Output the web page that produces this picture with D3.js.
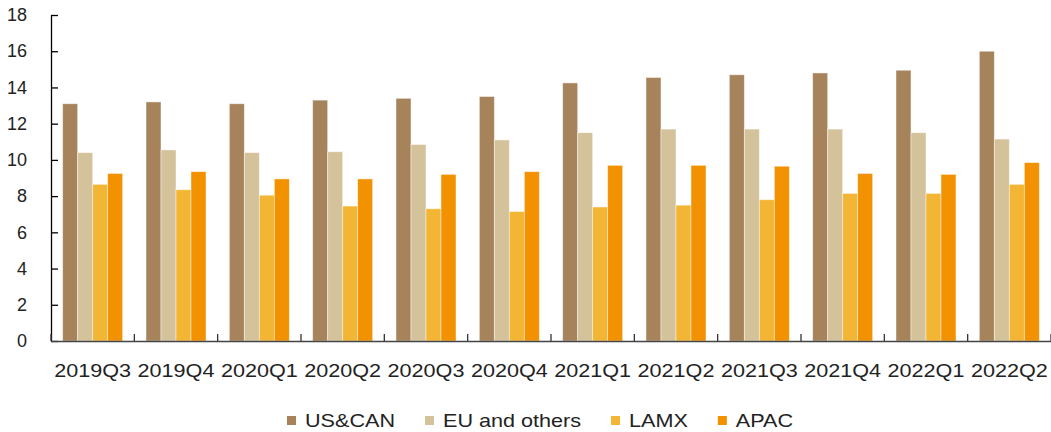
<!DOCTYPE html>
<html>
<head>
<meta charset="utf-8">
<script src="https://cdn.jsdelivr.net/npm/d3@7"></script>
<style>
  html, body { margin: 0; padding: 0; background: #fff; }
  svg { display: block; font-family: "Liberation Sans", Arial, sans-serif; }
</style>
</head>
<body>
<svg id="chart" width="1051" height="432"></svg>
<script>
const categories = ["2019Q3","2019Q4","2020Q1","2020Q2","2020Q3","2020Q4","2021Q1","2021Q2","2021Q3","2021Q4","2022Q1","2022Q2"];
const seriesNames = ["US&CAN","EU and others","LAMX","APAC"];
const usCan  = [13.1, 13.2, 13.1, 13.3, 13.4, 13.5, 14.25, 14.55, 14.7, 14.8, 14.95, 16.0];
const euOthers = [10.4, 10.55, 10.4, 10.45, 10.85, 11.1, 11.5, 11.7, 11.7, 11.7, 11.5, 11.15];
const lamx   = [8.65, 8.35, 8.05, 7.45, 7.3, 7.15, 7.4, 7.5, 7.8, 8.15, 8.15, 8.65];
const apac   = [9.25, 9.35, 8.95, 8.95, 9.2, 9.35, 9.7, 9.7, 9.65, 9.25, 9.2, 9.85];
const colors = ["#A6835B", "#D4C29A", "#F2B634", "#F39200"];
const yTicks = [0, 2, 4, 6, 8, 10, 12, 14, 16, 18];

const seriesValues = [usCan, euOthers, lamx, apac];
const svg = d3.select("#chart");
const mLeft = 51, mRight = 1051, mTop = 15, mBottom = 341;
const sx = 1.2;

const x0 = d3.scaleBand().domain(categories).range([mLeft, mRight]).paddingInner(0.28).paddingOuter(0.14);
const x1 = d3.scaleBand().domain(seriesNames).range([0, x0.bandwidth()]);
const y = d3.scaleLinear().domain([0, 18]).range([mBottom, mTop]);

// bars
const groups = svg.append("g").selectAll("g").data(categories).join("g")
  .attr("transform", d => `translate(${x0(d)},0)`);
groups.selectAll("rect")
  .data((c, i) => seriesNames.map((s, k) => ({s, k, v: seriesValues[k][i]})))
  .join("rect")
  .attr("x", d => x1(d.s))
  .attr("width", x1.bandwidth())
  .attr("y", d => y(d.v))
  .attr("height", d => y(0) - y(d.v))
  .attr("fill", d => colors[d.k])
  .attr("stroke", "rgba(255,255,255,0.55)")
  .attr("stroke-width", 0.8);

// y axis
const yAxis = svg.append("g").attr("transform", `translate(${mLeft},0)`)
  .call(d3.axisLeft(y).tickValues(yTicks).tickSizeInner(-7).tickSizeOuter(0).tickPadding(24));
yAxis.select(".domain").attr("stroke", "#000").attr("stroke-width", 1.3);
yAxis.selectAll(".tick line").attr("stroke", "#000").attr("stroke-width", 1.3);
yAxis.selectAll("text").attr("font-size", 18).attr("fill", "#222")
  .attr("font-family", "Liberation Sans, Arial, sans-serif");

// x axis labels
const xAxis = svg.append("g").attr("transform", `translate(0,${mBottom})`)
  .call(d3.axisBottom(x0).tickSize(0).tickPadding(23));
xAxis.select(".domain").attr("stroke", "#444").attr("stroke-width", 1.5);
xAxis.selectAll("text").attr("font-size", 18).attr("fill", "#222")
  .attr("font-family", "Liberation Sans, Arial, sans-serif")
  .attr("transform", `scale(${sx},1)`);

// boundary ticks
const gap = (x0.step() - x0.bandwidth()) / 2;
const bounds = categories.map(c => x0(c) - gap).concat([x0(categories[categories.length - 1]) + x0.bandwidth() + gap]);
svg.append("g").selectAll("line").data(bounds).join("line")
  .attr("x1", d => d).attr("x2", d => d)
  .attr("y1", mBottom).attr("y2", mBottom - 7)
  .attr("stroke", "#333").attr("stroke-width", 1.3);

// legend
const legend = svg.append("g");
let lx = 287;
seriesNames.forEach((s, k) => {
  legend.append("rect").attr("x", lx).attr("y", 416).attr("width", 9).attr("height", 9).attr("fill", colors[k]);
  const t = legend.append("text")
    .attr("transform", `translate(${lx + 18},427) scale(${sx},1)`)
    .attr("font-size", 18).attr("fill", "#222")
    .text(s);
  const w = t.node().getComputedTextLength() * sx;
  lx += 18 + w + 30;
});
</script>
</body>
</html>
